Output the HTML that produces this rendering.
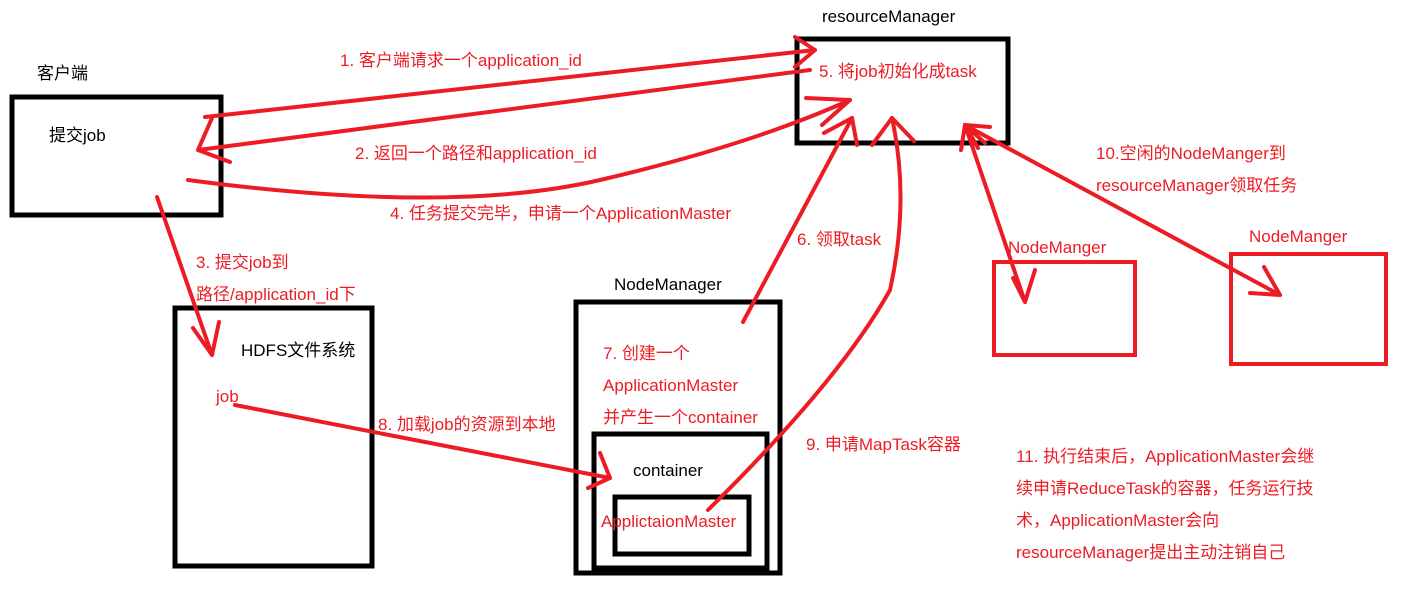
<!DOCTYPE html>
<html><head><meta charset="utf-8"><style>
html,body{margin:0;padding:0;background:#fff;}
svg{display:block;}
text{font-family:"Liberation Sans","Noto Sans CJK SC",sans-serif;font-size:17px;}
.r{fill:#ed1c24;}
.k{fill:#000;}
</style></head><body>
<svg width="1424" height="594" viewBox="0 0 1424 594">
<g fill="none" stroke="#000" stroke-width="5">
<rect x="12" y="97" width="209" height="118"/>
<rect x="797" y="39" width="211" height="104"/>
<rect x="175" y="308" width="197" height="258"/>
<rect x="576" y="302" width="204" height="271"/>
<rect x="594" y="434" width="173" height="134"/>
<rect x="615" y="497" width="134" height="57"/>
</g>
<g fill="none" stroke="#ed1c24" stroke-width="4">
<rect x="994" y="262" width="141" height="93"/>
<rect x="1231" y="254" width="155" height="110"/>
</g>
<g fill="none" stroke="#ed1c24" stroke-width="4" stroke-linecap="round" stroke-linejoin="round">
<!-- 1 -->
<line x1="205" y1="117" x2="815" y2="50"/>
<polyline points="795,37 815,50 795,67"/>
<!-- 2 -->
<line x1="810" y1="70" x2="198" y2="150"/>
<polyline points="212,118 198,150 230,162"/>
<!-- 4 -->
<path d="M188,180 Q450,215 600,180 T850,100"/>
<polyline points="806,98 850,100 822,125"/>
<!-- 3 -->
<line x1="157" y1="197" x2="212" y2="355"/>
<polyline points="193,328 212,355 219,322"/>
<!-- 8 -->
<line x1="235" y1="405" x2="610" y2="478"/>
<polyline points="600,453 610,478 588,488"/>
<!-- 6/7 -->
<line x1="743" y1="322" x2="852" y2="118"/>
<polyline points="824,133 852,118 857,145"/>
<!-- 9 -->
<path d="M708,510 Q840,380 890,290 Q910,200 892,118"/>
<polyline points="872,145 892,118 914,141"/>
<!-- 10 -->
<line x1="965" y1="125" x2="1025" y2="302"/>
<polyline points="961,150 965,125 985,143"/>
<polyline points="1013,278 1025,302 1035,270"/>
<line x1="965" y1="125" x2="1280" y2="295"/>
<polyline points="990,127 965,125 978,148"/>
<polyline points="1264,267 1280,295 1250,293"/>
</g>
<text class="k" x="822" y="22">resourceManager</text>
<text class="k" x="37" y="79">客户端</text>
<text class="k" x="49" y="141">提交job</text>
<text class="k" x="241" y="356">HDFS文件系统</text>
<text class="k" x="614" y="290">NodeManager</text>
<text class="k" x="633" y="476">container</text>
<text class="r" x="819" y="77">5. 将job初始化成task</text>
<text class="r" x="340" y="66">1. 客户端请求一个application_id</text>
<text class="r" x="355" y="159">2. 返回一个路径和application_id</text>
<text class="r" x="390" y="219">4. 任务提交完毕，申请一个ApplicationMaster</text>
<text class="r" x="196" y="268">3. 提交job到</text>
<text class="r" x="196" y="300">路径/application_id下</text>
<text class="r" x="216" y="402">job</text>
<text class="r" x="378" y="430">8. 加载job的资源到本地</text>
<text class="r" x="797" y="245">6. 领取task</text>
<text class="r" x="603" y="359">7. 创建一个</text>
<text class="r" x="603" y="391">ApplicationMaster</text>
<text class="r" x="603" y="423">并产生一个container</text>
<text class="r" x="601" y="527">ApplictaionMaster</text>
<text class="r" x="806" y="450">9. 申请MapTask容器</text>
<text class="r" x="1096" y="159">10.空闲的NodeManger到</text>
<text class="r" x="1096" y="191">resourceManager领取任务</text>
<text class="r" x="1008" y="253">NodeManger</text>
<text class="r" x="1249" y="242">NodeManger</text>
<text class="r" x="1016" y="462">11. 执行结束后，ApplicationMaster会继</text>
<text class="r" x="1016" y="494">续申请ReduceTask的容器，任务运行技</text>
<text class="r" x="1016" y="526">术，ApplicationMaster会向</text>
<text class="r" x="1016" y="558">resourceManager提出主动注销自己</text>
</svg>
</body></html>
